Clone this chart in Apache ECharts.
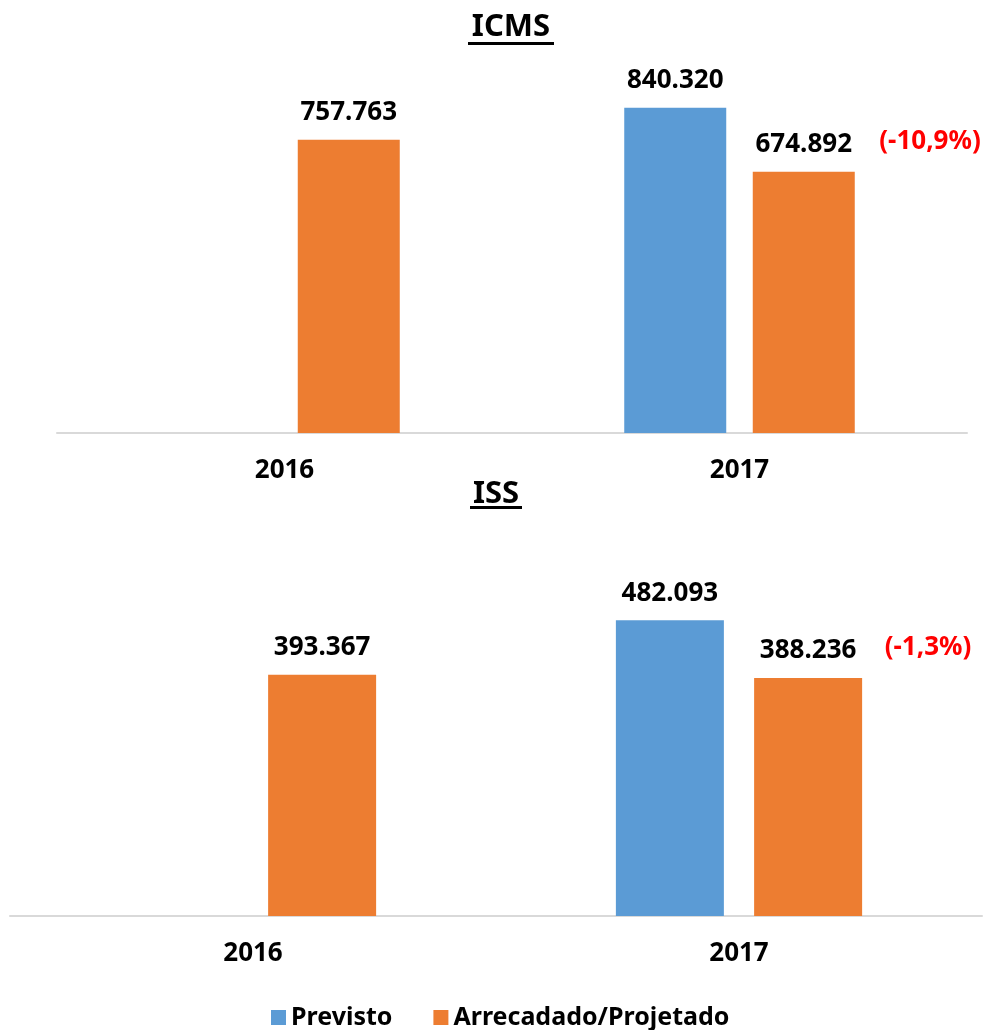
<!DOCTYPE html>
<html>
<head>
<meta charset="utf-8">
<title>ICMS / ISS</title>
<script src="https://cdn.jsdelivr.net/npm/echarts@6/dist/echarts.min.js"></script>
<style>
  html, body { margin: 0; padding: 0; background: #fff; }
  #chart { width: 986px; height: 1030px; }
</style>
</head>
<body>
<div id="chart"></div>
<script>
// dados
const categories = ['2016', '2017']
const seriesNames = ['Previsto', 'Arrecadado/Projetado']
const icmsPrevisto = [null, 840320]
const icmsArrecadado = [757763, 674892]
const issPrevisto = [null, 482093]
const issArrecadado = [393367, 388236]
const titles = ['ICMS', 'ISS']
const variacao = ['(-10,9%)', '(-1,3%)']

const BLUE = '#5B9BD5'
const ORANGE = '#ED7D31'
const FONT = 'Noto Sans'

function fmt(v) {
  return String(v).replace(/\B(?=(\d{3})+(?!\d))/g, '.')
}

const valueLabel = {
  show: true,
  position: 'top',
  distance: 14,
  fontFamily: FONT,
  fontWeight: 'bold',
  fontSize: 26,
  color: '#000',
  formatter: p => (p.value == null ? '' : fmt(p.value))
}

function xAxis(gridIndex) {
  return {
    type: 'category',
    gridIndex: gridIndex,
    data: categories,
    axisLine: { lineStyle: { color: '#d9d9d9', width: 2 } },
    axisTick: { show: false },
    axisLabel: { margin: 25, fontFamily: FONT, fontWeight: 'bold', fontSize: 26, color: '#000' }
  }
}

function yAxis(gridIndex, max) {
  return {
    type: 'value',
    gridIndex: gridIndex,
    min: 0,
    max: max,
    show: false,
    splitLine: { show: false }
  }
}

function bars(name, data, color, idx, width, gap) {
  return {
    name: name,
    type: 'bar',
    xAxisIndex: idx,
    yAxisIndex: idx,
    data: data,
    barWidth: width,
    barGap: gap,
    itemStyle: { color: color },
    label: valueLabel,
    animation: false
  }
}

const chart = echarts.init(document.getElementById('chart'))

chart.setOption({
  backgroundColor: '#fff',
  grid: [
    { left: 57, right: 19, top: 46, height: 387 },
    { left: 10, right: 4, top: 548, height: 368 }
  ],
  xAxis: [xAxis(0), xAxis(1)],
  yAxis: [yAxis(0, 1000000), yAxis(1, 600000)],
  legend: {
    data: seriesNames,
    left: 266,
    top: 1000,
    icon: 'rect',
    itemWidth: 15,
    itemHeight: 15,
    itemGap: 41,
    textStyle: { fontFamily: FONT, fontWeight: 'bold', fontSize: 25, color: '#000' }
  },
  series: [
    bars(seriesNames[0], icmsPrevisto, BLUE, 0, 102, '26%'),
    bars(seriesNames[1], icmsArrecadado, ORANGE, 0, 102, '26%'),
    bars(seriesNames[0], issPrevisto, BLUE, 1, 108, '28%'),
    bars(seriesNames[1], issArrecadado, ORANGE, 1, 108, '28%')
  ],
  graphic: [
    // títulos sublinhados
    {
      type: 'text', x: 511, y: 27,
      style: { text: titles[0], textAlign: 'center', textVerticalAlign: 'middle',
        font: 'bold 31px "Noto Sans"', fill: '#000' }
    },
    { type: 'rect', shape: { x: 468, y: 42, width: 86, height: 3 }, style: { fill: '#000' } },
    {
      type: 'text', x: 496, y: 494,
      style: { text: titles[1], textAlign: 'center', textVerticalAlign: 'middle',
        font: 'bold 31px "Noto Sans"', fill: '#000' }
    },
    { type: 'rect', shape: { x: 470, y: 506, width: 52, height: 3 }, style: { fill: '#000' } },
    // variação 2017 x 2016
    {
      type: 'text', x: 930, y: 142,
      style: { text: variacao[0], textAlign: 'center', textVerticalAlign: 'middle',
        font: 'bold 26px "Noto Sans"', fill: '#FF0000' }
    },
    {
      type: 'text', x: 928, y: 648,
      style: { text: variacao[1], textAlign: 'center', textVerticalAlign: 'middle',
        font: 'bold 26px "Noto Sans"', fill: '#FF0000' }
    }
  ]
})
</script>
</body>
</html>
